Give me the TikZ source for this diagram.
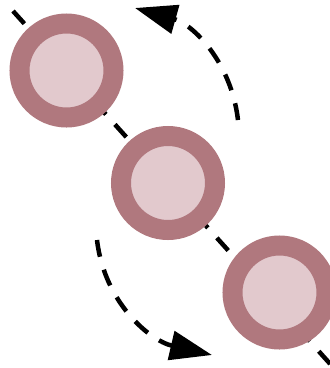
\documentclass[tikz,border=0pt]{standalone}
\usetikzlibrary{arrows.meta}
\definecolor{ringc}{RGB}{176,120,126}
\definecolor{innerc}{RGB}{226,201,205}
\tikzset{
  ballnode/.style={circle, draw=ringc, line width=20pt, fill=innerc, minimum size=94pt, inner sep=0pt},
  dashline/.style={line width=4.5pt, dash pattern=on 17pt off 13.5pt},
  curvedarrow/.style={dashline, -{Triangle[length=42pt, width=29pt]}}
}
\begin{document}
\begin{tikzpicture}[x=1pt,y=-1pt]
\useasboundingbox (0,0) rectangle (330,368);
\clip (0,0) rectangle (330,368);
\coordinate (lstart) at (13,11);
\coordinate (lend) at (343,378.2);
\draw[dashline] (lstart) -- (lend);
\node[ballnode] (c1) at (66.5,70.5) {};
\node[ballnode] (c2) at (168,183) {};
\node[ballnode] (c3) at (279.5,292.5) {};
\coordinate (ua) at (238,120);
\coordinate (ub) at (135,8);
\coordinate (la) at (97,240);
\coordinate (lb) at (212,355);
\draw[curvedarrow] (ua) .. controls (231,61) and (192,24) .. (ub);
\draw[curvedarrow] (la) .. controls (104.5,303) and (150,340.6) .. (lb);
\end{tikzpicture}
\end{document}
